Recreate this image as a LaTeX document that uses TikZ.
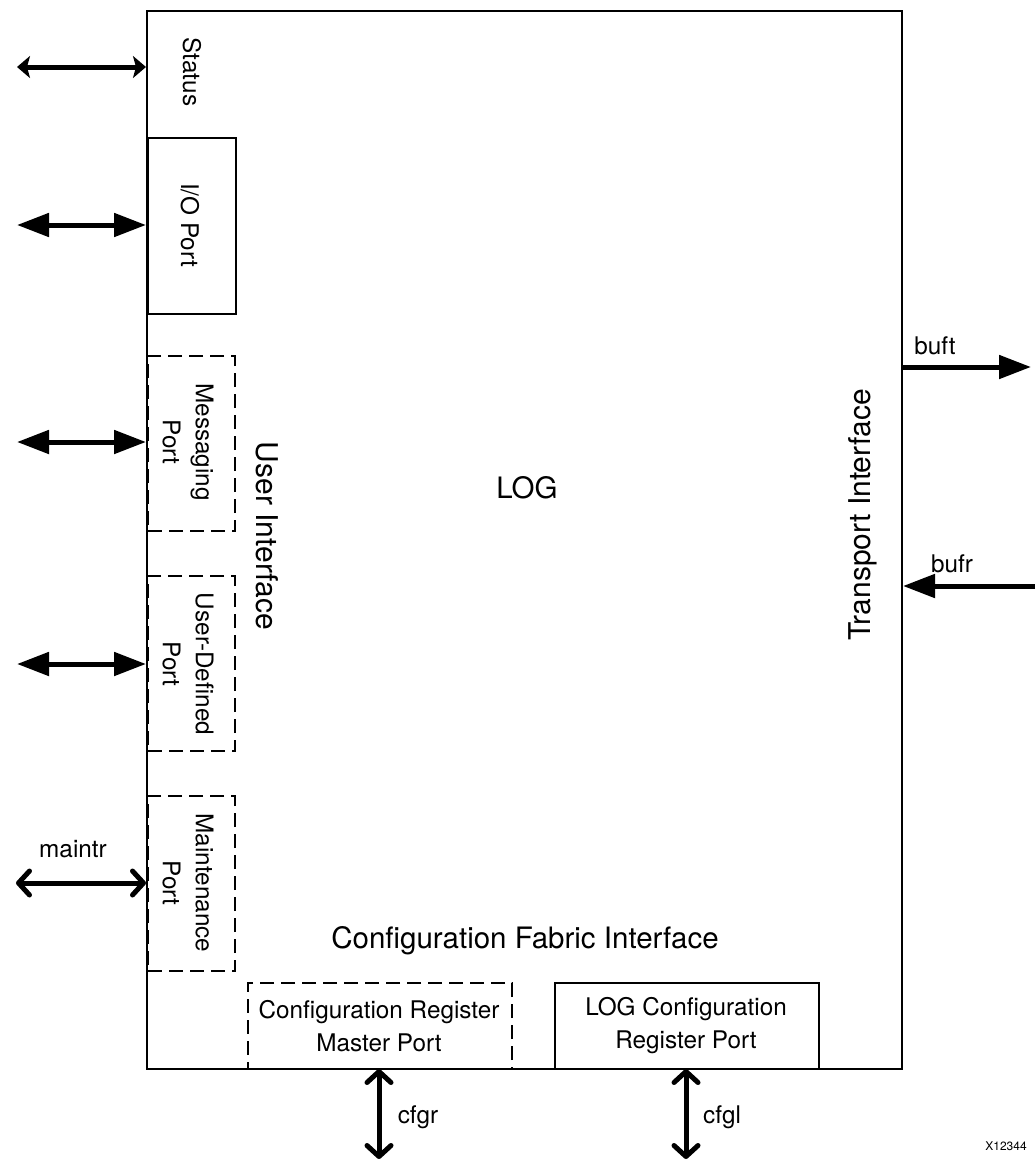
\documentclass[tikz,border=0pt]{standalone}
\usepackage{fontspec}
\setmainfont{TeX Gyre Heros}
\usetikzlibrary{arrows.meta}
\begin{document}
\begin{tikzpicture}[x=1pt,y=-1pt,
  big/.style={font=\fontsize{29.5}{34}\selectfont, inner sep=0},
  lab/.style={font=\fontsize{24.3}{33}\selectfont, inner sep=0, align=center},
  solidbox/.style={draw, line width=2pt, inner sep=0, anchor=north west},
  dashbox/.style={draw, line width=2.4pt, dash pattern=on 14pt off 7pt, inner sep=0, anchor=north west},
  sig/.style={line width=5pt},
  tri/.style={sig, {Triangle[length=32pt,width=23pt]}-{Triangle[length=32pt,width=23pt]}},
  stl/.style={sig, {Stealth[length=13pt,width=22pt,inset=3pt]}-{Stealth[length=13pt,width=22pt,inset=3pt]}},
  barb/.style={sig, {Straight Barb[length=11pt,width=24pt,line cap=round,line join=round]}-{Straight Barb[length=11pt,width=24pt,line cap=round,line join=round]}},
  onetri/.style={sig, -{Triangle[length=32pt,width=23pt]}}
]
\useasboundingbox (0,0) rectangle (1036,1162);

% main block
\node[solidbox, minimum width=755pt, minimum height=1058pt] (main) at (146,10) {};

% port boxes
\node[solidbox, minimum width=88pt, minimum height=176pt] (io) at (147,137) {};
\node[dashbox, minimum width=87pt, minimum height=175pt] (msg) at (147,355) {};
\node[dashbox, minimum width=87pt, minimum height=175pt] (udp) at (147,575) {};
\node[dashbox, minimum width=87pt, minimum height=175pt] (mnt) at (147,795) {};
\node[dashbox, minimum width=264pt, minimum height=86pt] (crm) at (247,982) {};
\node[solidbox, minimum width=264pt, minimum height=86pt] (lcr) at (554,982) {};

% texts
\node[lab, rotate=-90] (tstatus) at (192,72) {Status};
\node[lab, rotate=-90] (tio) at (190,225) {I/O Port};
\node[lab, rotate=-90] (tmsg) at (188,442) {Messaging\\Port};
\node[lab, rotate=-90] (tudp) at (188,664) {User-Defined\\Port};
\node[lab, rotate=-90] (tmnt) at (188,883) {Maintenance\\Port};
\node[big, font=\fontsize{30}{34}\selectfont, rotate=-90] (tui) at (267,536) {User Interface};
\node[big] (tlog) at (527,488) {LOG};
\node[big, font=\fontsize{30}{34}\selectfont, rotate=90] (tti) at (863,515) {Transport Interface};
\node[big] (tcfi) at (525,941) {Configuration Fabric Interface};
\node[lab] (tcrm) at (379,1026) {Configuration Register\\Master Port};
\node[lab] (tlcr) at (686,1026) {LOG Configuration\\Register Port};

% signal labels
\node[lab] (lbuft) at (935,346) {buft};
\node[lab] (lbufr) at (952,564) {bufr};
\node[lab] (lmaintr) at (73,849) {maintr};
\node[lab] (lcfgr) at (418,1117) {cfgr};
\node[lab] (lcfgl) at (722,1117) {cfgl};
\node[font=\fontsize{12}{14}\selectfont, inner sep=0] (xid) at (1006,1146) {X12344};

% free ends
\coordinate (sL) at (17,67);   \coordinate (sR) at (146,67);
\coordinate (iL) at (17,225);  \coordinate (iR) at (146,225);
\coordinate (mL) at (17,442);  \coordinate (mR) at (146,442);
\coordinate (uL) at (17,664);  \coordinate (uR) at (146,664);
\coordinate (nL) at (16,883);  \coordinate (nR) at (146,883);
\coordinate (btS) at (901,367); \coordinate (btE) at (1031,367);
\coordinate (brS) at (1035,586); \coordinate (brE) at (903,586);
\coordinate (crT) at (379,1069); \coordinate (crB) at (379,1159);
\coordinate (clT) at (686,1069); \coordinate (clB) at (686,1159);

% connectors
\draw[stl] (sL) -- (sR);
\draw[tri] (iL) -- (iR);
\draw[tri] (mL) -- (mR);
\draw[tri] (uL) -- (uR);
\draw[barb] (nL) -- (nR);
\draw[onetri] (btS) -- (btE);
\draw[onetri] (brS) -- (brE);
\draw[barb] (crT) -- (crB);
\draw[barb] (clT) -- (clB);
\end{tikzpicture}
\end{document}
